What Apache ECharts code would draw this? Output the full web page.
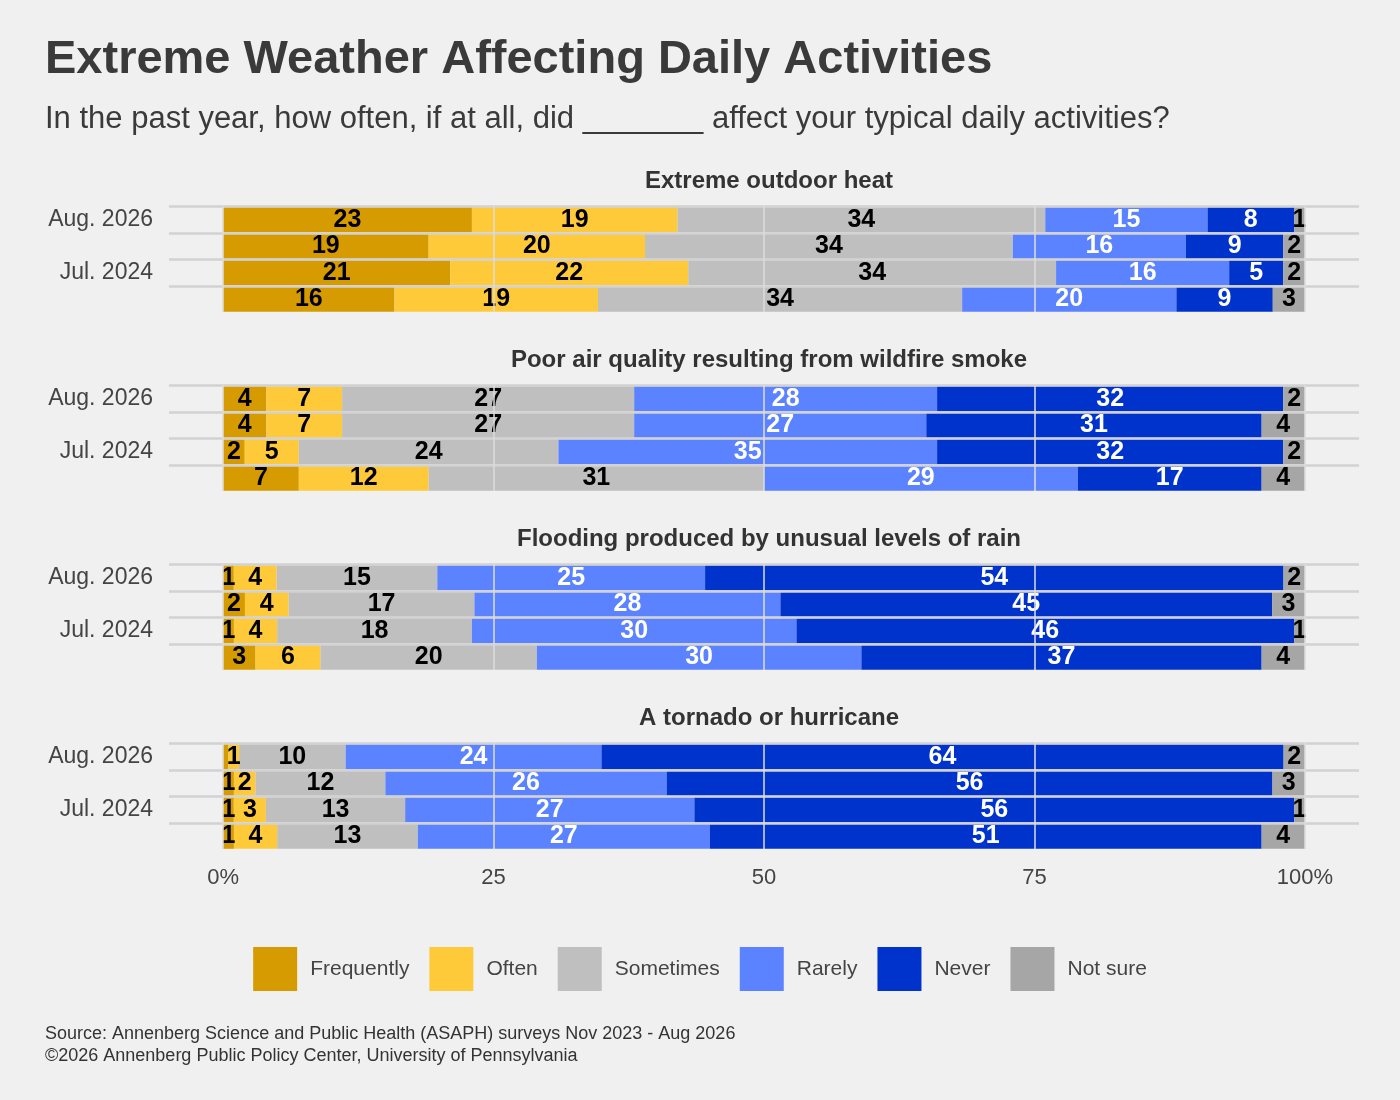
<!DOCTYPE html>
<html><head><meta charset="utf-8">
<script src="https://cdn.jsdelivr.net/npm/echarts@6/dist/echarts.min.js"></script>
<style>html,body{margin:0;background:#f0f0f0}#c{width:1400px;height:1100px}</style>
</head><body><div id="c"></div>
<script>
const categories = ['Aug. 2026','Aug. 2025','Jul. 2024','Nov. 2023'];
const responses = ['Frequently','Often','Sometimes','Rarely','Never','Not sure'];
const colors = ['#D59B00','#FFCA3A','#BFBFBF','#5B82FF','#0033CC','#A6A6A6'];
const panelTitles = ['Extreme outdoor heat','Poor air quality resulting from wildfire smoke','Flooding produced by unusual levels of rain','A tornado or hurricane'];
const heat = [[23,19,34,15,8,1],[19,20,34,16,9,2],[21,22,34,16,5,2],[16,19,34,20,9,3]];
const smoke = [[4,7,27,28,32,2],[4,7,27,27,31,4],[2,5,24,35,32,2],[7,12,31,29,17,4]];
const flood = [[1,4,15,25,54,2],[2,4,17,28,45,3],[1,4,18,30,46,1],[3,6,20,30,37,4]];
const tornado = [[0.5,1,10,24,64,2],[1,2,12,26,56,3],[1,3,13,27,56,1],[1,4,13,27,51,4]];
const xTicks = [0,25,50,75,100];
const panels = [heat, smoke, flood, tornado];
const tops = [206,385,564,743];
const H = 106;
const grids=[], xAxes=[], yAxes=[], series=[], titles=[];
titles.push({text:'Extreme Weather Affecting Daily Activities',left:40,top:32,textStyle:{fontFamily:'Liberation Sans',fontSize:47,fontWeight:'bold',color:'#3a3a3a'}});
titles.push({text:'In the past year, how often, if at all, did _______ affect your typical daily activities?',left:40,top:99,textStyle:{fontFamily:'Liberation Sans',fontSize:31,fontWeight:'normal',color:'#3a3a3a'}});
titles.push({text:'Source: Annenberg Science and Public Health (ASAPH) surveys Nov 2023 - Aug 2026\n©2026 Annenberg Public Policy Center, University of Pennsylvania',left:40,top:1018,textStyle:{fontFamily:'Liberation Sans',fontSize:18,fontWeight:'normal',color:'#333',lineHeight:22}});
panels.forEach((p,i)=>{
  grids.push({left:169,right:41,top:tops[i],height:H});
  titles.push({text:panelTitles[i],left:764,textAlign:'center',top:tops[i]-42,textStyle:{fontFamily:'Liberation Sans',fontSize:24,fontWeight:'bold',color:'#333'}});
  xAxes.push({type:'value',gridIndex:i,min:-5,max:105,splitLine:{show:false},axisLine:{show:false},axisTick:{show:false},
    axisLabel:{show:i===3,customValues:xTicks,formatter:v=>v===0?'0%':v===100?'100%':String(v),fontFamily:'Liberation Sans',fontSize:22,color:'#444',margin:18}});
  yAxes.push({type:'category',gridIndex:i,data:categories,inverse:true,axisLine:{show:false},axisTick:{show:false},splitLine:{show:false},
    axisLabel:{fontFamily:'Liberation Sans',fontSize:23,color:'#444',margin:16}});
  series.push({type:'bar',xAxisIndex:i,yAxisIndex:i,data:[],z:0,silent:true,
    markLine:{silent:true,symbol:'none',label:{show:false},animation:false,
      data:[...categories.map(c=>({yAxis:c,lineStyle:{color:'#d2d2d2',width:2.5,type:'solid'}})),
            ...xTicks.map(t=>({xAxis:t,lineStyle:{color:'#dcdcdc',width:1.5,type:'solid'}}))]}});
  responses.forEach((r,k)=>{
    series.push({type:'bar',name:r,stack:'s'+i,xAxisIndex:i,yAxisIndex:i,barWidth:25,z:2,
      itemStyle:{color:colors[k]},
      data:p.map(row=>{const tot=row.reduce((a,b)=>a+b,0);return {value:row[k]/tot*100,raw:row[k]};}),
      label:{show:true,position:'inside',formatter:d=>d.data.raw>=1?String(d.data.raw):'',fontFamily:'Liberation Sans',fontWeight:'bold',fontSize:25,
        color:(k===3||k===4)?'#fff':'#000',overflow:'none'},
      labelLayout:{hideOverlap:false}});
  });
});
const chart = echarts.init(document.getElementById('c'));
chart.setOption({backgroundColor:'#f0f0f0',animation:false,title:titles,grid:grids,xAxis:xAxes,yAxis:yAxes,series,
  legend:{data:responses,top:942,left:'center',itemWidth:44,itemHeight:44,itemGap:20,icon:'rect',
    textStyle:{fontFamily:'Liberation Sans',fontSize:21,color:'#444',padding:[0,0,0,8]}}});
</script></body></html>
